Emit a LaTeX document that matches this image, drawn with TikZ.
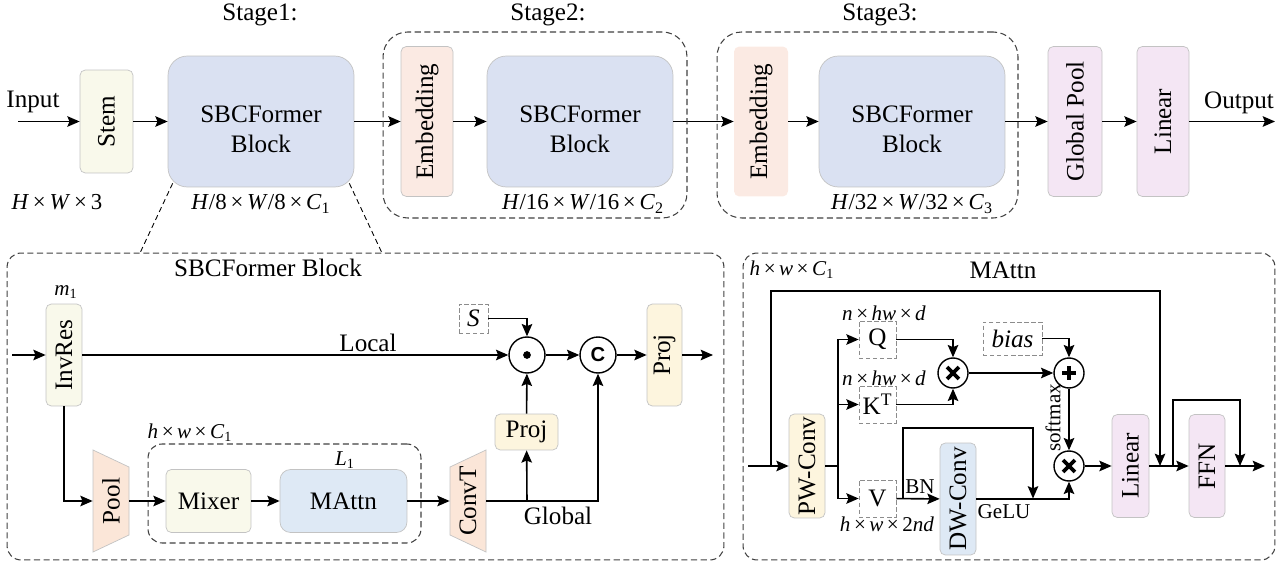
\documentclass[tikz,border=0pt]{standalone}
\usepackage{fontspec}
\setmainfont{Liberation Serif}
\setsansfont{Liberation Sans}
\usepackage{tikz}
\usetikzlibrary{positioning, fit, shapes, arrows.meta}

\definecolor{creme}{RGB}{249,249,235}
\definecolor{lavande}{RGB}{218,225,242}
\definecolor{saumon}{RGB}{251,234,227}
\definecolor{mauve}{RGB}{244,230,244}
\definecolor{jaune}{RGB}{253,245,222}
\definecolor{bleu}{RGB}{222,233,245}
\definecolor{peche}{RGB}{251,230,216}
\definecolor{gris}{RGB}{195,195,195}

\newcommand{\fois}{\,×\,}
\newcommand{\sbctxt}{\rule{0pt}{18.5pt}SBCFormer\\Block}

\tikzstyle{bloc}=[rectangle, rounded corners=3pt, draw=gris, inner sep=0pt, align=center]
\tikzstyle{vbloc}=[bloc, rotate=90]
\tikzstyle{sbc}=[bloc, rounded corners=11pt, fill=lavande, minimum width=3.72cm, minimum height=2.62cm]
\tikzstyle{etage}=[rectangle, rounded corners=14pt, draw=black!75, dash pattern=on 3.5pt off 2pt, line width=0.6pt]
\tikzstyle{cadre}=[etage, rounded corners=8pt]
\tikzstyle{var}=[rectangle, draw=black!45, dash pattern=on 2.5pt off 1.5pt, inner sep=0pt, minimum size=0.74cm]
\tikzstyle{op}=[circle, draw, line width=0.8pt, inner sep=0pt, minimum size=0.72cm]
\tikzstyle{dotop}=[op, path picture={\fill (path picture bounding box.center) circle (2.2pt);}]
\tikzstyle{mul}=[op, minimum size=0.6cm, path picture={
  \draw[line width=2.2pt] ([shift={(-3.4pt,-3.4pt)}]path picture bounding box.center) -- ([shift={(3.4pt,3.4pt)}]path picture bounding box.center);
  \draw[line width=2.2pt] ([shift={(-3.4pt,3.4pt)}]path picture bounding box.center) -- ([shift={(3.4pt,-3.4pt)}]path picture bounding box.center);}]
\tikzstyle{add}=[op, minimum size=0.6cm, path picture={
  \draw[line width=2.2pt] ([shift={(-3.9pt,0pt)}]path picture bounding box.center) -- ([shift={(3.9pt,0pt)}]path picture bounding box.center);
  \draw[line width=2.2pt] ([shift={(0pt,-3.9pt)}]path picture bounding box.center) -- ([shift={(0pt,3.9pt)}]path picture bounding box.center);}]
\tikzstyle{wire}=[line width=0.9pt]
\tikzstyle{fleche}=[wire, -{Stealth[length=7pt, width=6pt, inset=1.2pt]}]
\tikzstyle{zoom}=[line width=0.5pt, dash pattern=on 3pt off 2pt]
\tikzstyle{petit}=[font=\fontsize{12}{14}\selectfont]
\tikzstyle{dim}=[font=\fontsize{13}{15}\selectfont]

\begin{document}
\begin{tikzpicture}[x=0.02cm, y=-0.02cm, font=\fontsize{14.3}{17}\selectfont]
\useasboundingbox (0,0) rectangle (1278,564);

% Ligne principale
\node[vbloc, fill=creme, minimum width=2.06cm, minimum height=1.06cm] (stem) at (106.5,121.5) {Stem};
\node[sbc] (blk1) at (261,121.5) {\sbctxt};
\node[vbloc, fill=saumon, minimum width=3cm, minimum height=1.04cm] (emb2) at (427,121.5) {Embedding};
\node[sbc] (blk2) at (580,121.5) {\sbctxt};
\node[vbloc, fill=saumon, draw=none, minimum width=3cm, minimum height=1.08cm] (emb3) at (761,121.5) {Embedding};
\node[sbc] (blk3) at (912,121.5) {\sbctxt};
\node[vbloc, fill=mauve, minimum width=3cm, minimum height=1.08cm] (gpool) at (1075,121.5) {Global Pool};
\node[vbloc, fill=mauve, minimum width=3cm, minimum height=1.04cm] (lin) at (1163,121.5) {Linear};
\coordinate (in) at (18,121.5);
\coordinate (out) at (1275,121.5);
\node (input) at (33,102) {Input};
\node (output) at (1239,103) {Output};
\foreach \a/\b in {in/stem, stem/blk1, blk1/emb2, emb2/blk2, blk2/emb3, emb3/blk3, blk3/gpool, gpool/lin, lin/out}
  \draw[fleche] (\a) -- (\b);

% Etages
\node[etage, minimum width=6.08cm, minimum height=3.72cm] (st2) at (535,125) {};
\node[etage, minimum width=6.02cm, minimum height=3.72cm] (st3) at (867.5,125) {};
\node (lab1) at (260,15) {Stage1:};
\node (lab2) at (548,15) {Stage2:};
\node (lab3) at (880,15) {Stage3:};
\node[dim] (d0) at (57,202) {\textit{H}\fois\textit{W}\fois 3};
\node[dim] (d1) at (261,204) {\textit{H}/8\fois\textit{W}/8\fois\textit{C}\textsubscript{1}};
\node[dim] (d2) at (583,204) {\textit{H}/16\fois\textit{W}/16\fois\textit{C}\textsubscript{2}};
\node[dim] (d3) at (912,204) {\textit{H}/32\fois\textit{W}/32\fois\textit{C}\textsubscript{3}};

% Bloc SBCFormer
\node[cadre, minimum width=14.34cm, minimum height=6.14cm] (sbcbox) at (365.5,406.5) {};
\node (sbctitle) at (268,268) {SBCFormer Block};
\coordinate (z1) at (140,253);
\coordinate (z2) at (382,253);
\draw[zoom] ([shift={(5,-4)}]blk1.south west) -- (z1);
\draw[zoom] ([shift={(-5,-4)}]blk1.south east) -- (z2);

\node[vbloc, fill=creme, minimum width=2.04cm, minimum height=0.72cm] (invres) at (64,355) {InvRes};
\node[petit] (m1) at (66,292) {\textit{m}\textsubscript{1}};
\node[dotop] (dot) at (527,355) {};
\node[op, font=\sffamily\bfseries\fontsize{11.5}{13}\selectfont] (cc) at (598,355) {C};
\node[var, minimum size=0.58cm] (s) at (473.5,318.5) {\textit{S}};
\node[vbloc, fill=jaune, minimum width=2.04cm, minimum height=0.7cm] (proj2) at (664.5,355) {Proj};
\node[bloc, fill=jaune, minimum width=1.26cm, minimum height=0.72cm] (projs) at (526.5,432) {Proj};
\node (local) at (368,343) {Local};
\coordinate (in1) at (12,355);
\coordinate (out1) at (713,355);

\draw[draw=gris, fill=peche] (93,450) -- (129,467) -- (129,535) -- (93,552) -- cycle;
\node[rotate=90, minimum width=2.04cm, minimum height=0.72cm] (pool) at (111,501) {Pool};
\draw[draw=gris, fill=peche] (450,467) -- (486,450) -- (486,552) -- (450,535) -- cycle;
\node[rotate=90, minimum width=2.04cm, minimum height=0.72cm] (convt) at (468,501) {ConvT};
\node[cadre, minimum width=5.46cm, minimum height=1.98cm] (inner) at (284.5,493.5) {};
\node[petit] (hw1) at (190,433) {\textit{h}\fois\textit{w}\fois\textit{C}\textsubscript{1}};
\node[bloc, fill=creme, minimum width=1.7cm, minimum height=1.26cm] (mixer) at (208.5,501) {Mixer};
\node[bloc, fill=bleu, rounded corners=6pt, minimum width=2.54cm, minimum height=1.26cm] (mattn) at (343.5,501) {MAttn};
\node[petit] (l1) at (345,460) {\textit{L}\textsubscript{1}};
\node (global) at (558,516) {Global};
\coordinate (jg) at (527,501);

\draw[fleche] (in1) -- (invres);
\draw[fleche] (invres) -- (dot);
\draw[fleche] (invres) |- (pool);
\draw[fleche] (s) -| (dot);
\draw[fleche] (dot) -- (cc);
\draw[fleche] (cc) -- (proj2);
\draw[fleche] (proj2) -- (out1);
\draw[fleche] (pool) -- (mixer);
\draw[fleche] (mixer) -- (mattn);
\draw[fleche] (mattn) -- (convt);
\draw[fleche] (convt) -| (cc);
\draw[fleche] (jg) -- (projs);
\draw[fleche] (projs) -- (dot);

% Bloc MAttn
\node[cadre, minimum width=10.64cm, minimum height=6.14cm] (attbox) at (1009,406.5) {};
\node (atttitle) at (1003,270) {MAttn};
\node[petit] (hw2) at (792,270) {\textit{h}\fois\textit{w}\fois\textit{C}\textsubscript{1}};
\node[vbloc, fill=jaune, minimum width=2.08cm, minimum height=0.72cm] (pw) at (807,466) {PW-Conv};
\node[var] (q) at (877.5,339.5) {Q};
\node[var] (k) at (877.5,404.5) {K\textsuperscript{T}};
\node[var] (v) at (877.5,498.5) {V};
\node[petit] (nq) at (884,313) {\textit{n}\fois\textit{hw}\fois\textit{d}};
\node[petit] (nk) at (884,378) {\textit{n}\fois\textit{hw}\fois\textit{d}};
\node[petit] (nv) at (887,524) {\textit{h}\fois\textit{w}\fois 2\textit{nd}};
\node[mul] (mul1) at (953,373) {};
\node[add] (add) at (1069,373) {};
\node[mul] (mul2) at (1069,466) {};
\node[var, minimum width=1.18cm, minimum height=0.66cm] (bias) at (1012.5,338.5) {\textit{bias}};
\node[petit, rotate=90] (smax) at (1053,418) {softmax};
\node[vbloc, fill=bleu, minimum width=2.24cm, minimum height=0.72cm] (dw) at (958,499) {DW-Conv};
\node[petit] (bn) at (920,487) {BN};
\node[petit] (gelu) at (1004,512) {GeLU};
\node[vbloc, fill=mauve, minimum width=2.06cm, minimum height=0.74cm] (lin2) at (1130.5,466) {Linear};
\node[vbloc, fill=mauve, minimum width=2.06cm, minimum height=0.72cm] (ffn) at (1207,466) {FFN};
\coordinate (in2) at (748,466);
\coordinate (out2) at (1265,466);
\coordinate (j1) at (838,466);
\coordinate (s1) at (771,466);
\coordinate (s2) at (1160,291);
\coordinate (s3) at (1160,466);
\coordinate (jv) at (903,498.5);
\coordinate (b1) at (1033,428);
\coordinate (b2) at (1033,498.5);
\coordinate (j3) at (1173,466);
\coordinate (f1) at (1240,400);
\coordinate (f2) at (1240,466);

\draw[fleche] (in2) -- (pw);
\draw[fleche] (s1) |- (s2) -- (s3);
\draw[wire] (pw) -- (j1);
\draw[fleche] (j1) |- (q);
\draw[fleche] (j1) |- (k);
\draw[fleche] (j1) |- (v);
\draw[fleche] (q) -| (mul1);
\draw[fleche] (k) -| (mul1);
\draw[fleche] (mul1) -- (add);
\draw[fleche] (bias) -| (add);
\draw[fleche] (add) -- (mul2);
\draw[fleche] (v) -- (dw);
\draw[fleche] (jv) |- (b1) -- (b2);
\draw[fleche] (dw) -| (mul2);
\draw[fleche] (mul2) -- (lin2);
\draw[fleche] (lin2) -- (ffn);
\draw[fleche] (j3) |- (f1) -- (f2);
\draw[fleche] (ffn) -- (out2);
\end{tikzpicture}
\end{document}
